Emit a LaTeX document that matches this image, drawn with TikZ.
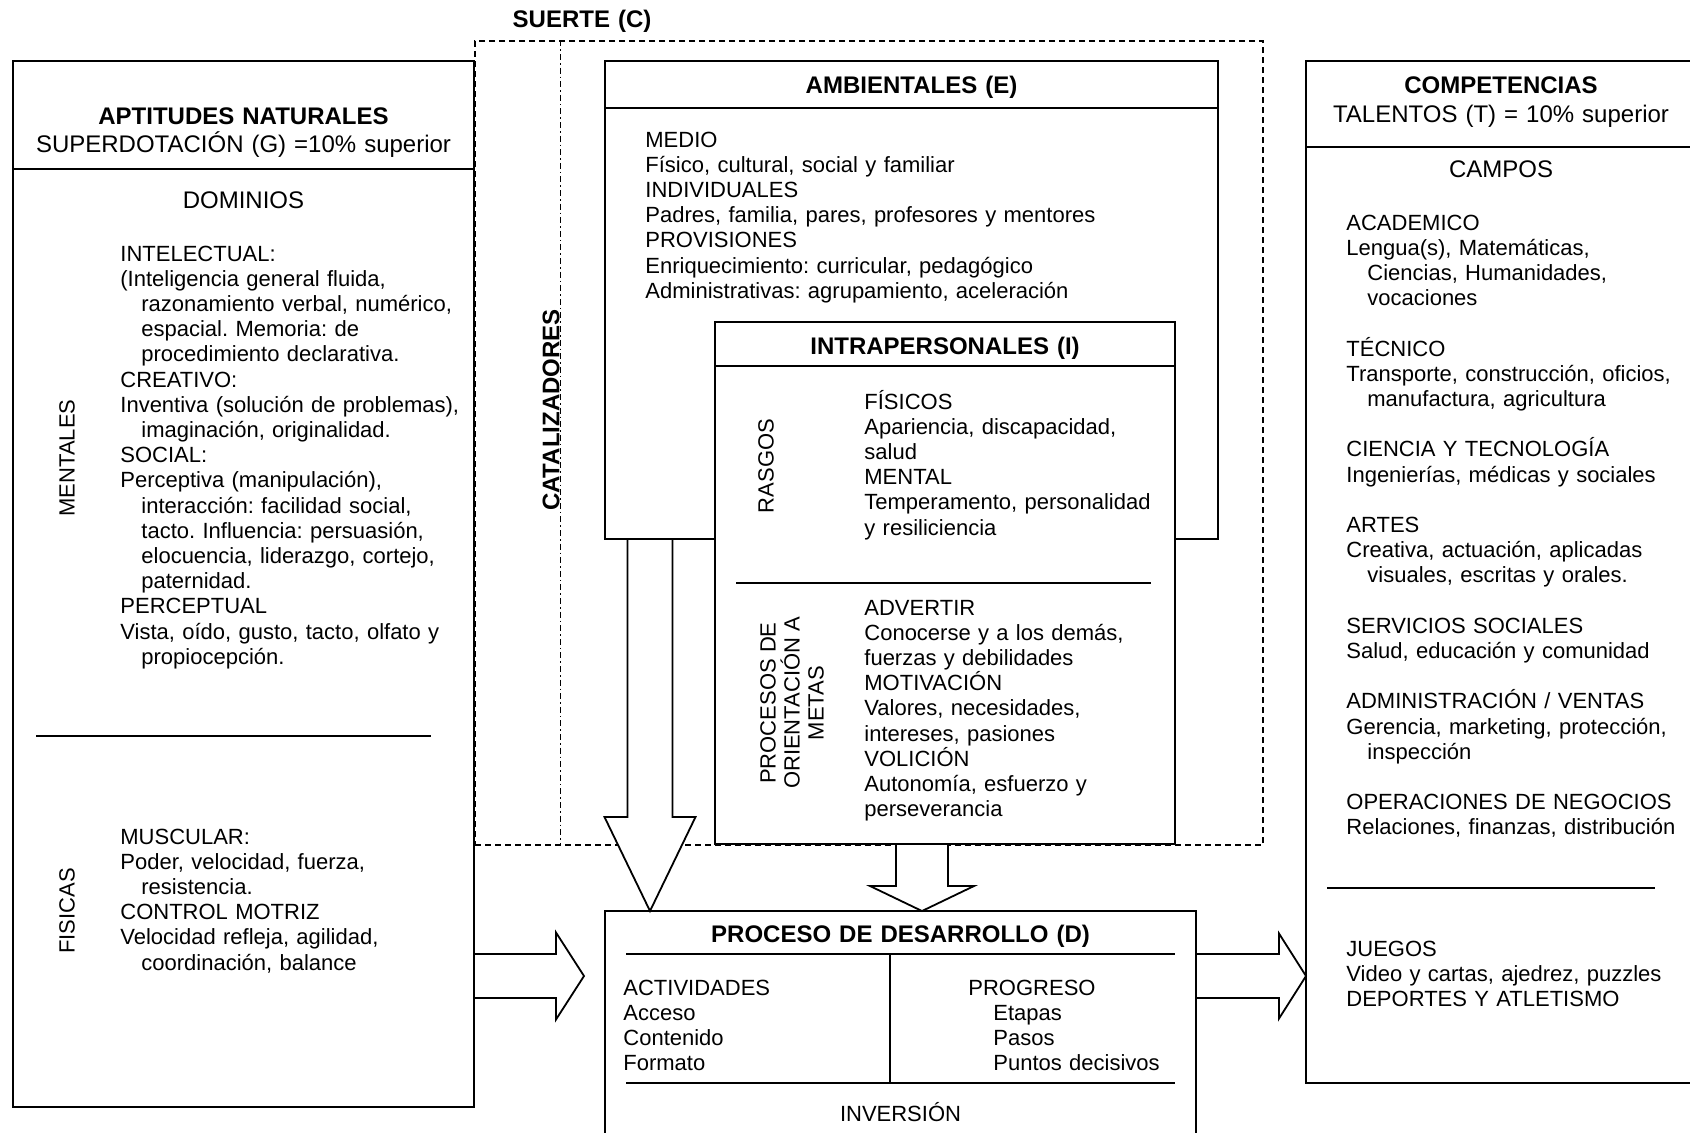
\documentclass[tikz,border=0pt]{standalone}
\usepackage{fontspec}
\setmainfont{Liberation Sans}
\usetikzlibrary{positioning,calc,backgrounds}
\frenchspacing
\newcommand{\sang}{\hspace*{10.5pt}}
\newcommand{\flechaV}[5]{\draw[hueca] ($(#1)+(-#3,0)$) -- ($(#2)+(-#3,-#5)$) -- ($(#2)+(-#4,-#5)$) -- (#2) -- ($(#2)+(#4,-#5)$) -- ($(#2)+(#3,-#5)$) -- ($(#1)+(#3,0)$);}
\newcommand{\flechaH}[5]{\draw[hueca] ($(#1)+(0,-#3)$) -- ($(#2)+(-#5,-#3)$) -- ($(#2)+(-#5,-#4)$) -- (#2) -- ($(#2)+(-#5,#4)$) -- ($(#2)+(-#5,#3)$) -- ($(#1)+(0,#3)$);}

\begin{document}
\begin{tikzpicture}[x=0.5pt, y=-0.5pt]
\tikzstyle{caja}=[draw, line width=0.9pt, inner sep=0pt, outer sep=0pt]
\tikzstyle{rayas}=[draw, line width=0.6pt, dash pattern=on 3pt off 2pt]
\tikzstyle{hueca}=[draw, fill=white, line width=0.9pt]
\tikzstyle{tit}=[inner sep=0pt, anchor=base, text width=230pt, align=center, font=\fontsize{12}{14.4}\selectfont]
\tikzstyle{txt}=[inner sep=0pt, anchor=base west, text width=240pt, align=left, font=\fontsize{11}{12.6}\selectfont]
\tikzstyle{vert}=[inner sep=0pt, rotate=90, align=center, font=\fontsize{11}{12}\selectfont]

\useasboundingbox (0,0) rectangle (1690,1132);

\node[caja, minimum width=230.5pt, minimum height=523pt] (apt) at (243.5,584) {};
\node[caja, minimum width=306.5pt, minimum height=239pt] (amb) at (911.5,300) {};
\node[caja, fill=white, minimum width=230pt, minimum height=261pt] (intra) at (945,583) {};
\node[caja, minimum width=295.5pt, minimum height=117pt] (proc) at (900.5,1028) {};
\node[caja, minimum width=195pt, minimum height=511pt] (comp) at (1501,572) {};

\draw[line width=0.9pt] ($(apt.north west)+(0,108)$) -- ($(apt.north east)+(0,108)$);
\draw[line width=0.9pt] ($(apt.west)+(23,152)$) -- ($(apt.east)+(-43,152)$);
\draw[line width=0.9pt] ($(amb.north west)+(0,47)$) -- ($(amb.north east)+(0,47)$);
\draw[line width=0.9pt] ($(intra.north west)+(0,44)$) -- ($(intra.north east)+(0,44)$);
\draw[line width=0.9pt] ($(intra.west)+(21,0)$) -- ($(intra.east)+(-24,0)$);
\draw[line width=0.9pt] ($(proc.north west)+(21,43)$) -- ($(proc.north east)+(-21,43)$);
\draw[line width=0.9pt] ($(proc.north west)+(21,172)$) -- ($(proc.north east)+(-21,172)$);
\draw[line width=0.9pt] ($(proc.north)+(-10.5,43)$) -- ($(proc.north)+(-10.5,172)$);
\draw[line width=0.9pt] ($(comp.north west)+(0,86)$) -- ($(comp.north east)+(0,86)$);
\draw[line width=0.9pt] ($(comp.west)+(21,316)$) -- ($(comp.west)+(349,316)$);

\coordinate (a1) at ($(amb.south west)+(45,0)$);
\coordinate (b1) at (a1 |- proc.north);
\coordinate (a2) at ($(intra.south)+(-23,0)$);
\coordinate (b2) at (a2 |- proc.north);
\coordinate (a3) at ($(apt.east)+(0,392)$);
\coordinate (b3) at ($(a3)+(110,0)$);
\coordinate (a4) at (proc.east |- a3);
\coordinate (b4) at (comp.west |- a3);

\begin{scope}[on background layer]
\node[rayas, inner sep=0pt, minimum width=394pt, minimum height=402pt] (cat) at (869,443) {};
\draw[line width=0.6pt, dash pattern=on 3pt off 1.5pt on 0.8pt off 1.5pt] ($(cat.north west)+(86,0)$) -- ($(cat.south west)+(86,0)$);
\flechaV{a1}{b1}{22.5}{45.5}{94}
\flechaV{a2}{b2}{26}{52}{25}
\flechaH{a3}{b3}{22}{43.5}{28}
\flechaH{a4}{b4}{22}{42.5}{27}
\end{scope}

\node[tit] (aptit) at (243.5,124) {\textbf{APTITUDES NATURALES}\\SUPERDOTACIÓN (G) =10\% superior};
\node[tit] (dominios) at (243.5,208) {DOMINIOS};
\node[vert] (mentales) at (67,458) {MENTALES};
\node[txt] (intelec) at (120,261) {INTELECTUAL:\\
(Inteligencia general fluida,\\
\sang razonamiento verbal, numérico,\\
\sang espacial. Memoria: de\\
\sang procedimiento declarativa.\\
CREATIVO:\\
Inventiva (solución de problemas),\\
\sang imaginación, originalidad.\\
SOCIAL:\\
Perceptiva (manipulación),\\
\sang interacción: facilidad social,\\
\sang tacto. Influencia: persuasión,\\
\sang elocuencia, liderazgo, cortejo,\\
\sang paternidad.\\
PERCEPTUAL\\
Vista, oído, gusto, tacto, olfato y\\
\sang propiocepción.};
\node[vert] (fisicas) at (67,911) {FISICAS};
\node[txt] (muscular) at (120,844) {MUSCULAR:\\
Poder, velocidad, fuerza,\\
\sang resistencia.\\
CONTROL MOTRIZ\\
Velocidad refleja, agilidad,\\
\sang coordinación, balance};

\node[tit] (suerte) at (582,27.6) {\textbf{SUERTE (C)}};
\node[vert, font=\fontsize{12}{14}\selectfont\bfseries] (catal) at (551,410) {CATALIZADORES};

\node[tit] (ambtit) at (911.5,93.6) {\textbf{AMBIENTALES (E)}};
\node[txt] (medio) at (645,147) {MEDIO\\
Físico, cultural, social y familiar\\
INDIVIDUALES\\
Padres, familia, pares, profesores y mentores\\
PROVISIONES\\
Enriquecimiento: curricular, pedagógico\\
Administrativas: agrupamiento, aceleración};

\node[tit] (intratit) at (945,354.6) {\textbf{INTRAPERSONALES (I)}};
\node[vert] (rasgos) at (766,466) {RASGOS};
\node[txt] (fisicos) at (864,409) {FÍSICOS\\
Apariencia, discapacidad,\\
salud\\
MENTAL\\
Temperamento, personalidad\\
y resiliciencia};
\node[vert] (metas) at (792,703) {PROCESOS DE\\ORIENTACIÓN A\\METAS};
\node[txt] (advertir) at (864,615) {ADVERTIR\\
Conocerse y a los demás,\\
fuerzas y debilidades\\
MOTIVACIÓN\\
Valores, necesidades,\\
intereses, pasiones\\
VOLICIÓN\\
Autonomía, esfuerzo y\\
perseverancia};

\node[tit] (proctit) at (900.5,942.6) {\textbf{PROCESO DE DESARROLLO (D)}};
\node[txt] (activ) at (623,995) {ACTIVIDADES\\Acceso\\Contenido\\Formato};
\node[txt] (progreso) at (968,995) {PROGRESO\\
\hspace*{12.5pt}Etapas\\
\hspace*{12.5pt}Pasos\\
\hspace*{12.5pt}Puntos decisivos};
\node[tit, font=\fontsize{11}{12.6}\selectfont] (inversion) at (900.5,1121) {INVERSIÓN};

\node[tit] (comptit) at (1501,93.6) {\textbf{COMPETENCIAS}\\TALENTOS (T) = 10\% superior};
\node[tit] (campos) at (1501,177.6) {CAMPOS};
\node[txt] (academ) at (1346,230) {ACADEMICO\\
Lengua(s), Matemáticas,\\
\sang Ciencias, Humanidades,\\
\sang vocaciones\\[12.6pt]
TÉCNICO\\
Transporte, construcción, oficios,\\
\sang manufactura, agricultura\\[12.6pt]
CIENCIA Y TECNOLOGÍA\\
Ingenierías, médicas y sociales\\[12.6pt]
ARTES\\
Creativa, actuación, aplicadas\\
\sang visuales, escritas y orales.\\[12.6pt]
SERVICIOS SOCIALES\\
Salud, educación y comunidad\\[12.6pt]
ADMINISTRACIÓN / VENTAS\\
Gerencia, marketing, protección,\\
\sang inspección\\[12.6pt]
OPERACIONES DE NEGOCIOS\\
Relaciones, finanzas, distribución};
\node[txt] (juegos) at (1346,956) {JUEGOS\\
Video y cartas, ajedrez, puzzles\\
DEPORTES Y ATLETISMO};
\end{tikzpicture}
\end{document}
